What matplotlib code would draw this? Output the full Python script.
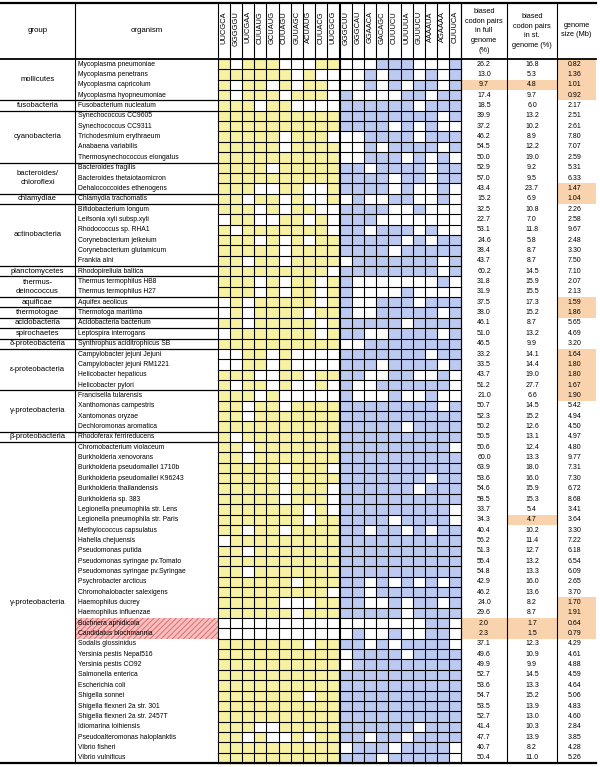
import matplotlib.pyplot as plt
from matplotlib.patches import Rectangle

plt.rcParams['font.family'] = ['Liberation Sans', 'DejaVu Sans']

# ---- data ----
group_names = ["mollicutes", "fusobacteria", "cyanobacteria", "bacteroides/\nchloroflexi",
               "chlamydiae", "actinobacteria", "planctomycetes", "thermus-\ndeinococcus",
               "aquificae", "thermotogae", "acidobacteria", "spirochaetes",
               "δ-proteobacteria", "ε-proteobacteria", "γ-proteobacteria",
               "β-proteobacteria", "γ-proteobacteria"]
group_sizes = [4, 1, 5, 3, 1, 6, 1, 2, 1, 1, 1, 1, 1, 4, 4, 1, 31]

organisms = [
    "Mycoplasma pneumoniae", "Mycoplasma penetrans", "Mycoplasma capricolum",
    "Mycoplasma hyopneumoniae", "Fusobacterium nucleatum", "Synechococcus CC9605",
    "Synechococcus CC9311", "Trichodesmium erythraeum", "Anabaena variabilis",
    "Thermosynechococcus elongatus", "Bacteroides fragilis", "Bacteroides thetaiotaomicron",
    "Dehalococcoides ethenogens", "Chlamydia trachomatis", "Bifidobacterium longum",
    "Leifsonia xyli subsp.xyli", "Rhodococcus sp. RHA1", "Corynebacterium jeikeium",
    "Corynebacterium glutamicum", "Frankia alni", "Rhodopirellula baltica",
    "Thermus termophilus HB8", "Thermus termophilus H27", "Aquifex aeolicus",
    "Thermotoga maritima", "Acidobacteria bacterium", "Leptospira interrogans",
    "Synthrophus aciditrophicus SB", "Campylobacter jejuni Jejuni",
    "Campylobacter jejuni RM1221", "Helicobacter hepaticus", "Helicobacter pylori",
    "Francisella tularensis", "Xanthomonas campestris", "Xantomonas oryzae",
    "Dechloromonas aromatica", "Rhodoferax ferrireducens", "Chromobacterium violaceum",
    "Burkholderia xenovorans", "Burkholderia pseudomallei 1710b",
    "Burkholderia pseudomallei K96243", "Burkholderia thailandensis", "Burkholderia sp. 383",
    "Legionella pneumophila str. Lens", "Legionella pneumophila str. Paris",
    "Methylococcus capsulatus", "Hahella chejuensis", "Pseudomonas putida",
    "Pseudomonas syringae pv.Tomato", "Pseudomonas syringae pv.Syringae",
    "Psychrobacter arcticus", "Chromohalobacter salexigens", "Haemophilus ducrey",
    "Haemophilus influenzae", "Buchnera aphidicola", "Candidatus blochmannia",
    "Sodalis glossinidus", "Yersinia pestis Nepal516", "Yersinia pestis CO92",
    "Salmonella enterica", "Escherichia coli", "Shigella sonnei",
    "Shigella flexneri 2a str. 301", "Shigella flexneri 2a str. 2457T",
    "Idiomarina loihiensis", "Pseudoalteromonas haloplanktis", "Vibrio fisheri",
    "Vibrio vulnificus"]

full_genome = [26.2, 13.0, 9.7, 17.4, 18.5, 39.9, 37.2, 46.2, 54.5, 50.0, 52.9, 57.0, 43.4,
               15.2, 32.5, 22.7, 53.1, 24.6, 38.4, 43.7, 60.2, 31.8, 31.9, 37.5, 38.0, 46.1,
               51.0, 46.5, 33.2, 33.5, 43.7, 51.2, 21.0, 50.7, 52.3, 50.2, 50.5, 50.6, 60.0,
               63.9, 53.6, 54.6, 58.5, 33.7, 34.3, 40.4, 56.2, 51.3, 55.4, 54.8, 42.9, 46.2,
               24.0, 29.6, 2.0, 2.3, 37.1, 49.6, 49.9, 52.7, 53.6, 54.7, 53.5, 52.7, 41.4,
               47.7, 40.7, 50.4]
st_genome = [16.8, 5.3, 4.8, 9.7, 6.0, 13.2, 10.2, 8.9, 12.2, 19.0, 9.2, 9.5, 23.7, 6.9,
             10.8, 7.0, 11.8, 5.8, 8.7, 8.7, 14.5, 15.9, 15.5, 17.3, 15.2, 8.7, 13.2, 9.9,
             14.1, 14.4, 19.0, 27.7, 6.6, 14.5, 15.2, 12.6, 13.1, 12.4, 13.3, 18.0, 16.0,
             15.9, 15.3, 5.4, 4.7, 10.2, 11.4, 12.7, 13.2, 13.3, 16.0, 13.6, 8.2, 8.7, 1.7,
             1.5, 12.3, 10.9, 9.9, 14.5, 13.3, 15.2, 13.9, 13.0, 10.3, 13.9, 8.2, 11.0]
genome_size = [0.82, 1.36, 1.01, 0.92, 2.17, 2.51, 2.61, 7.80, 7.07, 2.59, 5.31, 6.33, 1.47,
               1.04, 2.26, 2.58, 9.67, 2.48, 3.30, 7.50, 7.10, 2.07, 2.13, 1.59, 1.86, 5.65,
               4.69, 3.20, 1.64, 1.80, 1.80, 1.67, 1.90, 5.42, 4.94, 4.50, 4.97, 4.80, 9.77,
               7.31, 7.30, 6.72, 8.68, 3.41, 3.64, 3.30, 7.22, 6.18, 6.54, 6.09, 2.65, 3.70,
               1.70, 1.91, 0.64, 0.79, 4.29, 4.61, 4.88, 4.59, 4.64, 5.06, 4.83, 4.60, 2.84,
               3.85, 4.28, 5.26]

yellow_codons = ["UUCGCA", "GGGGGU", "UUCGAA", "CUUAUG", "GCUAUG",
                 "CUUAGU", "GUUAGC", "ACUAUG", "CUUACG", "UUCGCG"]
blue_codons = ["GGGCUU", "GGGCAU", "GGAACA", "GACAGC", "CUUUCU",
               "UUUUUA", "GUUUCU", "AAAAUA", "AGAAAA", "CUUUCA"]

# 1 = codon pair biased in that organism
yellow_bits = [
    "1011100011", "1111110100", "1011010110", "1011101110", "1110110000",
    "1111111111", "1111111111", "1111101110", "1111101111", "1111111111",
    "1111011111", "1111111111", "1110011001", "1101101001", "1110101100",
    "0110011010", "1011111110", "1110101011", "1111101111", "1101101111",
    "1111111110", "1110101101", "1110101101", "0101111101", "0101111011",
    "1101111101", "0111111101", "1111111111", "0011010000", "0011010000",
    "1110011011", "1011010010", "1110100000", "1101101111", "1101111111",
    "1111111111", "1011111111", "1101111111", "1101111111", "1111101110",
    "1111101111", "1111101110", "1111101110", "1111111010", "1111111011",
    "1101101111", "0111111111", "1101111111", "1111111111", "1101111111",
    "1111110111", "1111111110", "1111100011", "1111110111", "0000000000",
    "0000000000", "1111111011", "1111111111", "1111111111", "1111111111",
    "1111111111", "1111111011", "1111111111", "1111111111", "1110011111",
    "1101001011", "1111111111", "1111111111"]
blue_bits = [
    "0001110001", "0010110101", "0010101101", "1000011011", "1111110111",
    "1111111101", "1111010100", "0011110111", "0010111101", "0011101010",
    "1101111011", "1111011011", "1111010010", "0100110010", "1111001000",
    "1110000000", "1101110100", "1111101011", "1111011111", "0111111101",
    "1111111101", "1000000010", "1000010000", "1001110111", "1001111101",
    "1111101111", "1100111101", "0011111111", "1111111011", "1110111101",
    "1100110010", "1001111110", "1000100100", "1111111101", "1111111111",
    "1111101111", "1111111111", "1111111110", "1111111111", "1111111111",
    "1111111011", "1111110111", "1111111111", "1111111110", "1111011110",
    "1101101011", "1111111111", "1111111111", "1111111111", "1111111111",
    "1101010101", "1101111111", "1100101101", "1111101111", "0000000110",
    "0100100110", "1101011110", "0111101111", "0111111111", "1111111111",
    "1111111111", "1111111111", "1111111111", "1111111111", "1111110111",
    "1101101111", "0111011110", "1110111110"]

# highlighted cells (row numbers, 0-based)
marked_full = [2, 54, 55]
marked_st = [2, 44, 54, 55]
marked_size = [0, 1, 2, 3, 12, 13, 23, 24, 28, 29, 30, 31, 32, 52, 53, 54, 55]
marked_name = [54, 55]

# ---- layout ----
fig = plt.figure(figsize=(6, 7.67), dpi=100)
ax = fig.add_axes([0, 0, 1, 1])
ax.set_xlim(0, 600)
ax.set_ylim(767, 0)
ax.axis('off')

top, head_bot, bottom = 3, 59, 763
row_h = (bottom - head_bot) / len(organisms)
x_grp, x_org, x_y0, x_b0, cw = 75, 218, 218, 340, 12.1
x_full, x_st, x_size, x_end = 461, 507, 557, 596

YEL, BLU, ORA, RED = '#f7f2a2', '#bccaf2', '#f9d3ae', '#f6c0c0'

def ry(i):
    return head_bot + i * row_h

# highlight fills
plt.rcParams['hatch.linewidth'] = 0.7
for i in marked_name:
    ax.add_patch(Rectangle((x_grp + 1, ry(i)), x_org - x_grp - 1, row_h, fc=RED,
                           ec='#e36a6a', hatch='//////', lw=0))
for rows, x0, x1 in [(marked_full, x_full, x_st), (marked_st, x_st, x_size),
                     (marked_size, x_size, x_end)]:
    for i in rows:
        ax.add_patch(Rectangle((x0 + 1, ry(i)), x1 - x0 - 1, row_h, fc=ORA, ec='none'))

# codon grid
for i in range(len(organisms)):
    for j in range(10):
        if yellow_bits[i][j] == '1':
            ax.add_patch(Rectangle((x_y0 + j * cw, ry(i)), cw, row_h, fc=YEL, ec='none'))
        if blue_bits[i][j] == '1':
            ax.add_patch(Rectangle((x_b0 + j * cw, ry(i)), cw, row_h, fc=BLU, ec='none'))

for x0 in (x_y0, x_b0):
    for j in range(11):
        ax.plot([x0 + j * cw] * 2, [top, bottom], color='black', lw=0.8)
    for i in range(len(organisms) + 1):
        ax.plot([x0, x0 + 10 * cw], [ry(i)] * 2, color='black', lw=0.8)

# column labels
for j in range(10):
    ax.text(x_y0 + (j + 0.5) * cw, 11, yellow_codons[j], rotation=90, ha='center',
            va='top', fontsize=5.4)
    ax.text(x_b0 + (j + 0.5) * cw, 11, blue_codons[j], rotation=90, ha='center',
            va='top', fontsize=5.4)

ax.text(x_grp / 2, 31, "group", ha='center', va='center', fontsize=5.7)
ax.text((x_grp + x_org) / 2, 31, "organism", ha='center', va='center', fontsize=5.7)
ax.text((x_full + x_st) / 2, 31, "biased\ncodon pairs\nin full\ngenome\n(%)", ha='center',
        va='center', fontsize=5.3, linespacing=1.55)
ax.text((x_st + x_size) / 2, 31, "biased\ncodon pairs\nin st.\ngenome (%)", ha='center',
        va='center', fontsize=5.3, linespacing=1.55)
ax.text((x_size + x_end) / 2, 30, "genome\nsize (Mb)", ha='center', va='center',
        fontsize=5.3, linespacing=1.55)

# rows
for i, name in enumerate(organisms):
    yc = ry(i) + row_h / 2
    ax.text(x_grp + 3, yc, name, ha='left', va='center', fontsize=4.9)
    ax.text((x_full + x_st) / 2, yc, f"{full_genome[i]:.1f}", ha='center', va='center',
            fontsize=5.0)
    ax.text((x_st + x_size) / 2, yc, f"{st_genome[i]:.1f}", ha='center', va='center',
            fontsize=5.0)
    ax.text((x_size + x_end) / 2 - 2, yc, f"{genome_size[i]:.2f}", ha='center',
            va='center', fontsize=5.0)

# groups
start = 0
for g, n in zip(group_names, group_sizes):
    y0, y1 = ry(start), ry(start + n)
    ax.text(x_grp / 2, (y0 + y1) / 2, g, ha='center', va='center', fontsize=5.5,
            linespacing=1.5)
    if start > 0:
        ax.plot([0, x_org], [y0, y0], color='black', lw=0.9)
    start += n

# frame lines
ax.plot([0, x_end], [top, top], color='black', lw=1.6)
ax.plot([0, x_end], [head_bot, head_bot], color='black', lw=1.3)
ax.plot([0, x_end], [bottom, bottom], color='black', lw=1.6)
for x in (x_grp, x_full, x_st, x_size):
    ax.plot([x, x], [top, bottom], color='black', lw=0.8)

fig.savefig('out.png', dpi=100)
